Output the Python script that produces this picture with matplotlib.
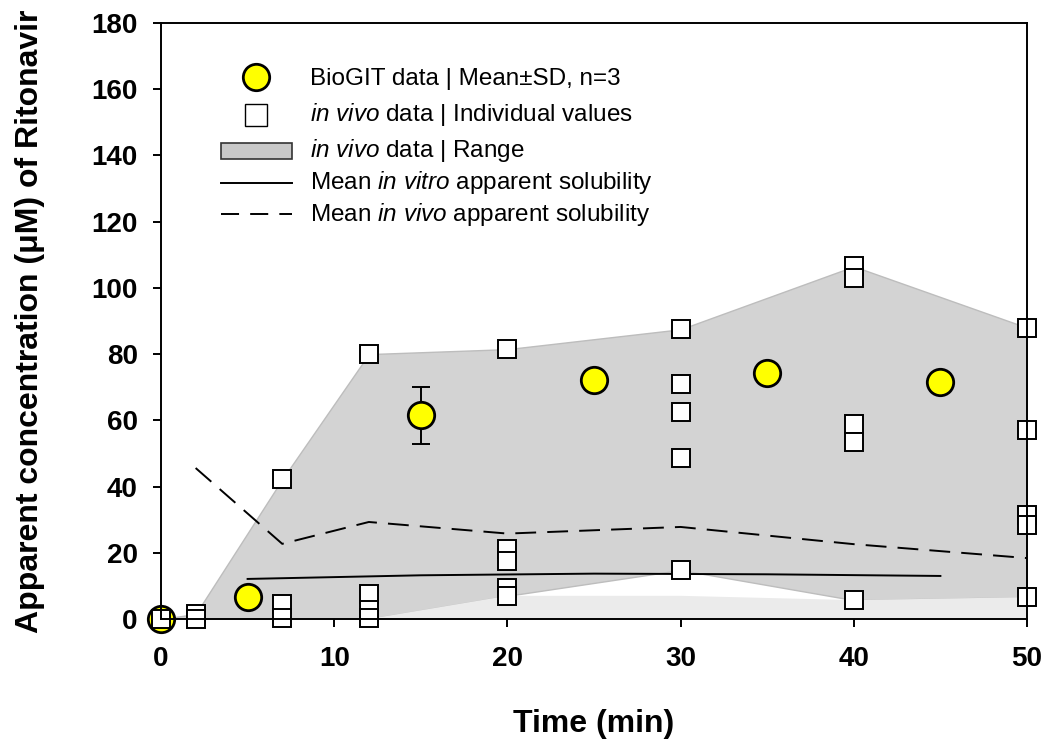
import numpy as np
import matplotlib
matplotlib.use("Agg")
import matplotlib.pyplot as plt
from matplotlib.patches import Rectangle

plt.rcParams['font.family'] = ['Liberation Sans', 'DejaVu Sans']
plt.rcParams['mathtext.fontset'] = 'custom'
plt.rcParams['mathtext.rm'] = 'Liberation Sans'
plt.rcParams['mathtext.it'] = 'Liberation Sans:italic'
plt.rcParams['lines.scale_dashes'] = False

# ---------------- data ----------------
biogit_time = [0, 5, 15, 25, 35, 45]
biogit_mean = [0, 6.6, 61.6, 72.2, 74.3, 71.6]
biogit_sd = [0, 0.5, 8.6, 1.5, 2.0, 1.5]

invivo_time = [0, 2, 2, 7, 7, 7, 12, 12, 12, 12,
               20, 20, 20, 20, 20,
               30, 30, 30, 30, 30,
               40, 40, 40, 40, 40,
               50, 50, 50, 50, 50]
invivo_conc = [0, 1.5, 0, 42.2, 4.5, 0.4, 80.0, 7.5, 2.8, 0.3,
               81.5, 21.0, 17.5, 9.5, 7.0,
               87.5, 71.0, 62.5, 48.6, 14.8,
               106.5, 103.0, 58.9, 53.6, 5.7,
               88.0, 57.0, 31.3, 28.4, 6.6]

range_time = [0, 2, 7, 12, 20, 30, 40, 50]
range_upper = [0, 1.5, 42.2, 80.0, 81.5, 87.5, 106.5, 88.0]
range_lower = [0, 0, 0, 0, 7.0, 14.8, 5.7, 6.6]

vitro_sol_time = [5, 15, 25, 35, 45]
vitro_sol = [12.1, 13.2, 13.7, 13.5, 13.0]

vivo_sol_time = [2, 7, 12, 20, 30, 40, 50]
vivo_sol = [45.6, 22.7, 29.3, 25.8, 27.8, 22.6, 18.4]

x_ticks = [0, 10, 20, 30, 40, 50]
y_ticks = [0, 20, 40, 60, 80, 100, 120, 140, 160, 180]

legend_labels = [
    "BioGIT data | Mean\u00b1SD, n=3",
    r"$\mathit{in\ vivo}$ data | Individual values",
    r"$\mathit{in\ vivo}$ data | Range",
    r"Mean $\mathit{in\ vitro}$ apparent solubility",
    r"Mean $\mathit{in\ vivo}$ apparent solubility",
]

# ---------------- figure ----------------
W, H = 1046, 743
fig = plt.figure(figsize=(W / 100, H / 100), dpi=100)
ax_l, ax_r, ax_t, ax_b = 161, 1027, 23, 619
ax = fig.add_axes([ax_l / W, (H - ax_b) / H, (ax_r - ax_l) / W, (ax_b - ax_t) / H])

lw = 1.4
range_face = '#d3d3d3'
range_edge = '#bdbdbd'

ax.fill_between(range_time, range_lower, range_upper, facecolor=range_face,
                edgecolor=range_edge, linewidth=1.0, zorder=1)
ax.fill_between(range_time, 0, np.minimum(range_lower, 7.0), facecolor='#ebebeb',
                edgecolor='none', zorder=1)

ax.plot(vitro_sol_time, vitro_sol, color='black', lw=lw, zorder=3)
ax.plot(vivo_sol_time, vivo_sol, color='black', lw=lw, dashes=(15, 8), zorder=3)

ax.errorbar(biogit_time, biogit_mean, yerr=biogit_sd, fmt='none', ecolor='black',
            elinewidth=lw, capsize=6.5, capthick=lw, zorder=4)
ax.plot(biogit_time, biogit_mean, 'o', ms=19, mfc='#ffff00', mec='black', mew=2.0,
        zorder=5, clip_on=False)
ax.plot(invivo_time, invivo_conc, 's', ms=12.5, mfc='white', mec='black', mew=1.4,
        zorder=6, clip_on=False)

ax.set_xlim(0, 50)
ax.set_ylim(0, 180)
ax.set_xticks(x_ticks)
ax.set_yticks(y_ticks)
ax.tick_params(direction='out', length=5.8, width=lw, labelsize=20)
ax.tick_params(axis='x', pad=14)
ax.tick_params(axis='y', pad=11)
for lab in ax.get_xticklabels() + ax.get_yticklabels():
    lab.set_fontweight('bold')
for s in ax.spines.values():
    s.set_linewidth(lw)
    s.set_zorder(7)

fig.text(0.5 * (ax_l + ax_r) / W, 1 - 724 / H, 'Time (min)', ha='center', va='center',
         fontsize=23, fontweight='bold')
fig.text(30 / W, 1 - (ax_t + ax_b) / 2 / H, 'Apparent concentration (\u03bcM) of Ritonavir',
         rotation=90, ha='center', va='center', fontsize=23, fontweight='bold')

# ---------------- legend (manual) ----------------
def ax_x(px):
    return (px - ax_l) / (ax_r - ax_l)

def ax_y(py):
    return (ax_b - py) / (ax_b - ax_t)

rows = [79, 115, 151, 183, 214]
tx = ax_x(310)
for lab, ry in zip(legend_labels, rows):
    ax.text(tx, ax_y(ry), lab, transform=ax.transAxes, ha='left', va='center',
            fontsize=17.5)
mx = ax_x(256)
ax.plot([mx], [ax_y(77)], 'o', ms=19, mfc='#ffff00', mec='black', mew=2.0,
        transform=ax.transAxes, clip_on=False, zorder=8)
ax.plot([mx], [ax_y(115)], 's', ms=16.5, mfc='white', mec='black', mew=1.0,
        transform=ax.transAxes, clip_on=False, zorder=8)
ax.add_patch(Rectangle((ax_x(221), ax_y(159)), ax_x(292) - ax_x(221), ax_y(143) - ax_y(159),
                       transform=ax.transAxes, facecolor='#c8c8c8', edgecolor='#333333',
                       linewidth=1.2, zorder=8))
ax.plot([ax_x(221), ax_x(292)], [ax_y(183), ax_y(183)], color='black', lw=lw,
        transform=ax.transAxes, zorder=8)
ax.plot([ax_x(221), ax_x(292)], [ax_y(214), ax_y(214)], color='black', lw=lw,
        dashes=(13, 8), transform=ax.transAxes, zorder=8)

fig.savefig('out.png', dpi=100)
